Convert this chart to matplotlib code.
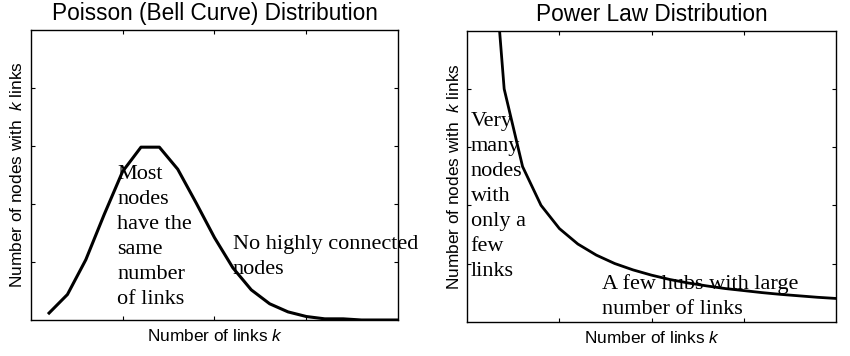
import matplotlib
matplotlib.use('Agg')
import matplotlib.pyplot as plt

# number of links k
k = [1, 2, 3, 4, 5, 6, 7, 8, 9, 10, 11, 12, 13, 14, 15, 16, 17, 18, 19, 20]

# bell curve
poisson = [0.006, 0.022, 0.052, 0.091, 0.128, 0.149, 0.149, 0.130, 0.101, 0.071,
           0.045, 0.026, 0.014, 0.007, 0.003, 0.001, 0.001, 0.0, 0.0, 0.0]

# power law
power = [1.6, 0.8, 0.533, 0.4, 0.32, 0.267, 0.229, 0.2, 0.178, 0.16,
         0.145, 0.133, 0.123, 0.114, 0.107, 0.1, 0.094, 0.089, 0.084, 0.08]

titles = ['Poisson (Bell Curve) Distribution', 'Power Law Distribution']
xlabel = 'Number of links $k$'
ylabel = 'Number of nodes with  $k$ links'

plt.rcParams['font.family'] = ['Liberation Sans', 'DejaVu Sans']
plt.rcParams['mathtext.fontset'] = 'custom'
plt.rcParams['mathtext.rm'] = 'Liberation Sans'
plt.rcParams['mathtext.it'] = 'Liberation Sans:italic'

fig = plt.figure(figsize=(8.5, 3.56), dpi=100)
ax1 = fig.add_axes([0.0361, 0.1011, 0.4325, 0.8146])
ax2 = fig.add_axes([0.5498, 0.0963, 0.4334, 0.8174])


def style(ax, ymax, title):
    ax.set_xlim(0, 20)
    ax.set_ylim(0, ymax)
    ax.set_xticks([5, 10, 15])
    ax.set_yticks([ymax * f for f in (0.2, 0.4, 0.6, 0.8)])
    ax.tick_params(direction='in', length=3, width=0.8, top=True, right=True,
                   labelbottom=False, labelleft=False)
    for s in ax.spines.values():
        s.set_linewidth(1.0)
    ax.set_title(title, fontsize=16.3, pad=7)
    ax.set_xlabel(xlabel, fontsize=12.4, labelpad=6)
    ax.set_ylabel(ylabel, fontsize=12.4, labelpad=4)


# left panel
ax1.plot(k, poisson, color='black', lw=2.2)
style(ax1, 0.25, titles[0])
serif = ['Liberation Serif', 'DejaVu Serif']
ax1.text(4.7, 0.134, 'Most\nnodes\nhave the\nsame\nnumber\nof links',
         family=serif, fontsize=16, va='top', ha='left', linespacing=1.43)
ax1.text(11.0, 0.073, 'No highly connected\nnodes', family=serif, fontsize=16,
         va='top', ha='left', linespacing=1.38, clip_on=False)

# right panel
ax2.plot(k, power, color='black', lw=2.0)
style(ax2, 1.0, titles[1])
ax2.text(0.18, 0.72, 'Very\nmany\nnodes\nwith\nonly a\nfew\nlinks',
         family=serif, fontsize=16, va='top', ha='left', linespacing=1.43)
ax2.text(7.3, 0.162, 'A few hubs with large\nnumber of links',
         family=serif, fontsize=16, va='top', ha='left', linespacing=1.38)

fig.savefig('out.png', dpi=100)
